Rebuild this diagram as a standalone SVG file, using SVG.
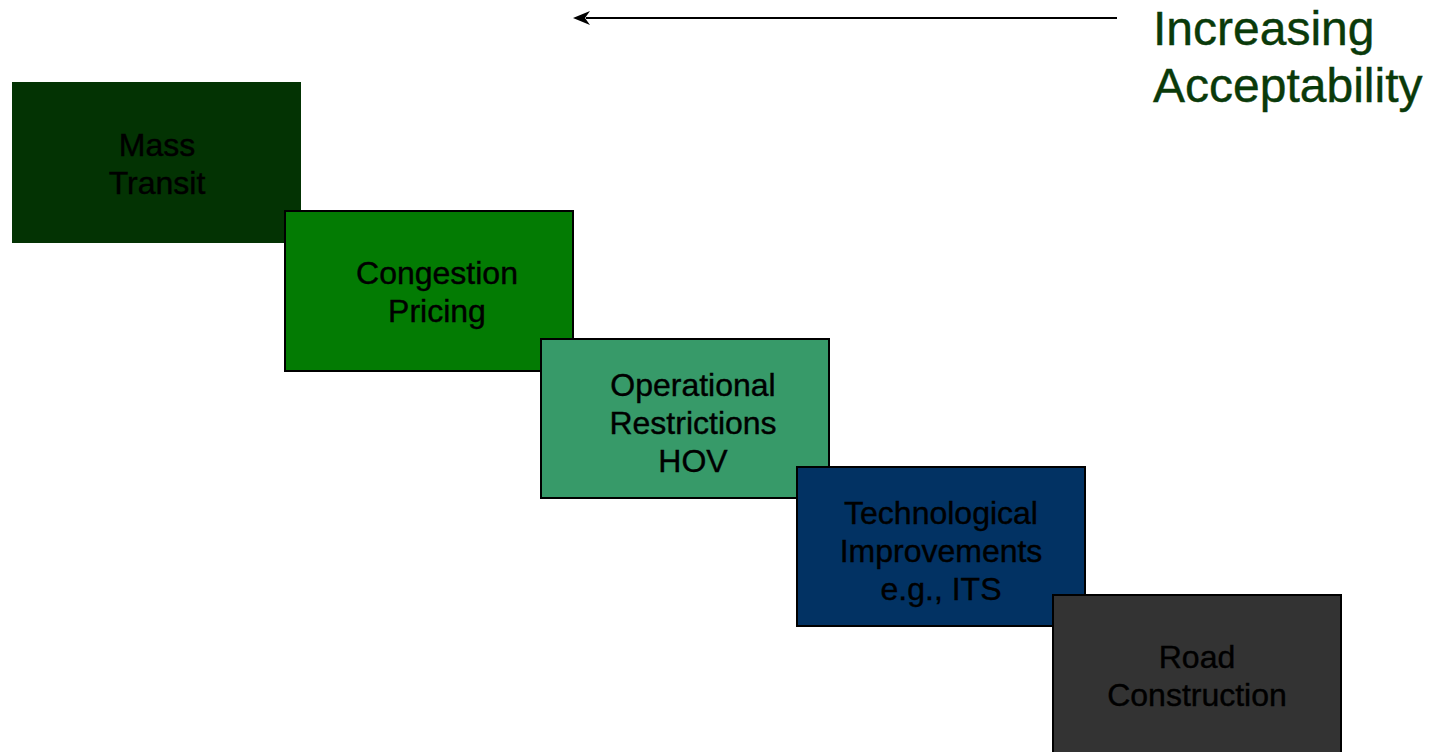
<svg xmlns="http://www.w3.org/2000/svg" width="1431" height="752" viewBox="0 0 1431 752">
<style>
.box{stroke:#000;stroke-width:2}
.lbl{font-family:"Liberation Sans",Arial,sans-serif;font-size:32px;fill:#000;text-anchor:middle;stroke:#000;stroke-width:0.4}
.title{font-family:"Liberation Sans",Arial,sans-serif;font-size:48px;fill:#0a3a0a;stroke:#0a3a0a;stroke-width:0.4}
</style>
<rect width="1431" height="752" fill="#fff"/>
<g id="connectors">
<line x1="1117" y1="18" x2="586" y2="18" stroke="#000" stroke-width="2"/>
<path d="M573,18 L590,11 L585,18 L590,25 Z" fill="#000"/>
</g>
<g id="title">
<text class="title" x="1153" y="45">Increasing</text>
<text class="title" x="1153" y="102">Acceptability</text>
</g>
<g id="mass-transit">
<rect x="12" y="82" width="289" height="161" fill="#033303"/>
<text class="lbl" x="157" y="156">Mass</text>
<text class="lbl" x="157" y="194">Transit</text>
</g>
<g id="congestion-pricing">
<rect class="box" x="285" y="211" width="288" height="160" fill="#037b03"/>
<text class="lbl" x="437" y="284">Congestion</text>
<text class="lbl" x="437" y="322">Pricing</text>
</g>
<g id="operational-restrictions">
<rect class="box" x="541" y="339" width="288" height="159" fill="#379a69"/>
<text class="lbl" x="693" y="396">Operational</text>
<text class="lbl" x="693" y="434">Restrictions</text>
<text class="lbl" x="693" y="472">HOV</text>
</g>
<g id="technological-improvements">
<rect class="box" x="797" y="467" width="288" height="159" fill="#023263"/>
<text class="lbl" x="941" y="524">Technological</text>
<text class="lbl" x="941" y="562">Improvements</text>
<text class="lbl" x="941" y="600">e.g., ITS</text>
</g>
<g id="road-construction">
<rect class="box" x="1053" y="595" width="288" height="165" fill="#333333"/>
<text class="lbl" x="1197" y="668">Road</text>
<text class="lbl" x="1197" y="706">Construction</text>
</g>
</svg>
